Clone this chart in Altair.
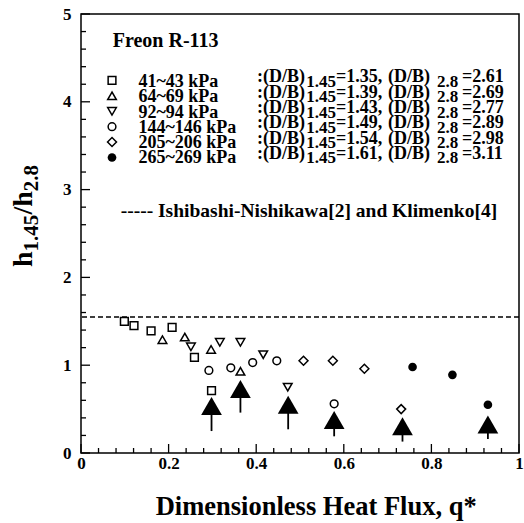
import altair as alt
import pandas as pd

# ---------------- data ----------------
SERIES_LABELS = ["41~43 kPa", "64~69 kPa", "92~94 kPa", "144~146 kPa", "205~206 kPa", "265~269 kPa"]
DB_145 = ["1.35", "1.39", "1.43", "1.49", "1.54", "1.61"]
DB_28 = ["2.61", "2.69", "2.77", "2.89", "2.98", "3.11"]

Q_41 = [0.099, 0.121, 0.160, 0.208, 0.259, 0.298]
H_41 = [1.50, 1.45, 1.39, 1.43, 1.09, 0.71]
Q_64 = [0.186, 0.237, 0.297, 0.364]
H_64 = [1.29, 1.32, 1.18, 0.93]
Q_92 = [0.251, 0.317, 0.364, 0.416, 0.472]
H_92 = [1.21, 1.26, 1.26, 1.12, 0.75]
Q_144 = [0.292, 0.342, 0.392, 0.447, 0.578]
H_144 = [0.94, 0.97, 1.03, 1.05, 0.56]
Q_205 = [0.508, 0.575, 0.647, 0.731]
H_205 = [1.05, 1.05, 0.96, 0.50]
Q_265 = [0.757, 0.848, 0.929]
H_265 = [0.98, 0.89, 0.55]

ARROW_Q = [0.298, 0.364, 0.473, 0.578, 0.734, 0.929]
ARROW_HEAD = [0.535, 0.73, 0.55, 0.375, 0.305, 0.325]
ARROW_TAIL = [0.25, 0.46, 0.27, 0.19, 0.13, 0.16]

ISHIBASHI_KLIMENKO = 1.55

X_MAJOR = [0, 0.2, 0.4, 0.6, 0.8, 1]
Y_MAJOR = [0, 1, 2, 3, 4, 5]

# ---------------- styling / layout ----------------
FONT = "Liberation Serif"
W, H = 438, 439
XS = alt.Scale(domain=[0, 1], nice=False, zero=False)
YS = alt.Scale(domain=[0, 5], nice=False, zero=False)
X_MINOR = [round(i * 0.04, 2) for i in range(26) if i % 5 != 0]
Y_MINOR = [round(i * 0.2, 1) for i in range(26) if i % 5 != 0]
# tick lengths expressed in data units (9 px major, 5 px minor)
X_TICK_MAJOR, X_TICK_MINOR = 9 * 5 / H, 5 * 5 / H   # vertical ticks on x axis (y units)
Y_TICK_MAJOR, Y_TICK_MINOR = 9 / W, 5 / W           # horizontal ticks on y axis (x units)


def xe(field="x", axis=None):
    return alt.X(field, type="quantitative", scale=XS, axis=axis)


def ye(field="y", axis=None):
    return alt.Y(field, type="quantitative", scale=YS, axis=axis)


def text_layer(df, size, align="left", angle=None):
    kw = dict(font=FONT, fontWeight="bold", fontSize=size, align=align,
              baseline="alphabetic", color="black")
    if angle is not None:
        kw["angle"] = angle
    return alt.Chart(df).mark_text(**kw).encode(x=xe(), y=ye(), text="text:N")


SERIES = [
    (Q_41, H_41, "square", False, 60),
    (Q_64, H_64, "triangle-up", False, 75),
    (Q_92, H_92, "triangle-down", False, 75),
    (Q_144, H_144, "circle", False, 60),
    (Q_205, H_205, "diamond", False, 80),
    (Q_265, H_265, "circle", True, 75),
]

layers = []

# inward ticks along bottom and left frame
for vals, ln in ((X_MAJOR, X_TICK_MAJOR), (X_MINOR, X_TICK_MINOR)):
    tdf = pd.DataFrame({"x": vals, "y": [0.0] * len(vals), "y2": [ln] * len(vals)})
    layers.append(alt.Chart(tdf).mark_rule(color="black", strokeWidth=1.3).encode(
        x=xe(), y=ye(), y2="y2:Q"))
for vals, ln in ((Y_MAJOR, Y_TICK_MAJOR), (Y_MINOR, Y_TICK_MINOR)):
    tdf = pd.DataFrame({"y": vals, "x": [0.0] * len(vals), "x2": [ln] * len(vals)})
    layers.append(alt.Chart(tdf).mark_rule(color="black", strokeWidth=1.3).encode(
        y=ye(), x=xe(), x2="x2:Q"))

# axes labels (left / bottom)
anchor = pd.DataFrame({"x": [0.5], "y": [2.5]})
label_x = alt.Axis(orient="bottom", values=X_MAJOR, format="~g", ticks=False, tickSize=0,
                   domain=False, grid=False, title=None, labelFont=FONT, labelFontWeight="bold",
                   labelFontSize=17, labelColor="black", labelPadding=2, labelFlush=False)
label_y = alt.Axis(orient="left", values=Y_MAJOR, format="~g", ticks=False, tickSize=0,
                   domain=False, grid=False, title=None, labelFont=FONT, labelFontWeight="bold",
                   labelFontSize=17, labelColor="black", labelPadding=10)
layers.append(alt.Chart(anchor).mark_point(opacity=0).encode(x=xe(axis=label_x), y=ye(axis=label_y)))

# dashed correlation line
layers.append(alt.Chart(pd.DataFrame({"y": [ISHIBASHI_KLIMENKO]})).mark_rule(
    color="black", strokeDash=[5, 3], strokeWidth=1.5).encode(y=ye()))

# data series
for q, h, shape, filled, size in SERIES:
    df = pd.DataFrame({"x": q, "y": h})
    layers.append(alt.Chart(df).mark_point(shape=shape, filled=filled, size=size, color="black",
                                           strokeWidth=1.5, opacity=1).encode(x=xe(), y=ye()))

# arrows
arrows = pd.DataFrame({"x": ARROW_Q, "y": ARROW_TAIL, "y2": ARROW_HEAD})
layers.append(alt.Chart(arrows).mark_rule(color="black", strokeWidth=1.8).encode(
    x=xe(), y=ye(), y2="y2:Q"))
layers.append(alt.Chart(arrows).mark_point(shape="triangle-up", filled=True, size=430,
                                           color="black", opacity=1).encode(x=xe(), y=ye("y2")))

# legend block
SYM_X = 0.0708
LABEL_X = 0.131
PIECE_X = [0.402, 0.514, 0.582, 0.701, 0.813, 0.870]
ROW_STEP = 0.1743
for i, (q, h, shape, filled, size) in enumerate(SERIES):
    sym = pd.DataFrame({"x": [SYM_X], "y": [4.243 - 0.1754 * i]})
    layers.append(alt.Chart(sym).mark_point(shape=shape, filled=filled, size=size, color="black",
                                            strokeWidth=1.5, opacity=1).encode(x=xe(), y=ye()))

main_rows, sub_rows = [], []
for i in range(6):
    y_main = 4.221 - ROW_STEP * i
    y_sub = 4.169 - ROW_STEP * i
    main_rows += [
        {"x": LABEL_X, "y": y_sub, "text": SERIES_LABELS[i]},
        {"x": PIECE_X[0], "y": y_main, "text": ":(D/B)"},
        {"x": PIECE_X[2], "y": y_main, "text": "=" + DB_145[i] + ","},
        {"x": PIECE_X[3], "y": y_main, "text": "(D/B)"},
        {"x": PIECE_X[5], "y": y_main, "text": "=" + DB_28[i]},
    ]
    sub_rows += [
        {"x": PIECE_X[1], "y": y_sub, "text": "1.45"},
        {"x": PIECE_X[4], "y": y_sub, "text": "2.8"},
    ]
layers.append(text_layer(pd.DataFrame(main_rows), 18))
layers.append(text_layer(pd.DataFrame(sub_rows), 17))

layers.append(text_layer(pd.DataFrame([{"x": 0.0724, "y": 4.628, "text": "Freon R-113"}]), 20))
layers.append(text_layer(pd.DataFrame([{"x": 0.0906, "y": 2.688,
                                        "text": "-----  Ishibashi-Nishikawa[2] and Klimenko[4]"}]), 19.5))

# axis titles
layers.append(text_layer(pd.DataFrame([{"x": 0.537, "y": -0.706,
                                        "text": "Dimensionless Heat Flux, q*"}]), 26.5, align="center"))
y_main_x, y_sub_x = -0.1119, -0.098
layers.append(text_layer(pd.DataFrame([
    {"x": y_main_x, "y": 2.118, "text": "h"},
    {"x": y_main_x, "y": 2.715, "text": "/h"},
]), 28, angle=270))
layers.append(text_layer(pd.DataFrame([
    {"x": y_sub_x, "y": 2.296, "text": "1.45"},
    {"x": y_sub_x, "y": 2.982, "text": "2.8"},
]), 21, angle=270))

chart = alt.layer(*layers).resolve_axis(x="independent", y="independent").properties(
    width=W, height=H,
    autosize=alt.AutoSizeParams(type="none"),
    padding={"left": 81, "top": 14, "right": 5, "bottom": 70},
).configure(
    font=FONT, background="white",
    view=alt.ViewConfig(stroke="black", strokeWidth=1.5),
)

chart.save("out.html", embed_options={"renderer": "svg", "actions": False})
